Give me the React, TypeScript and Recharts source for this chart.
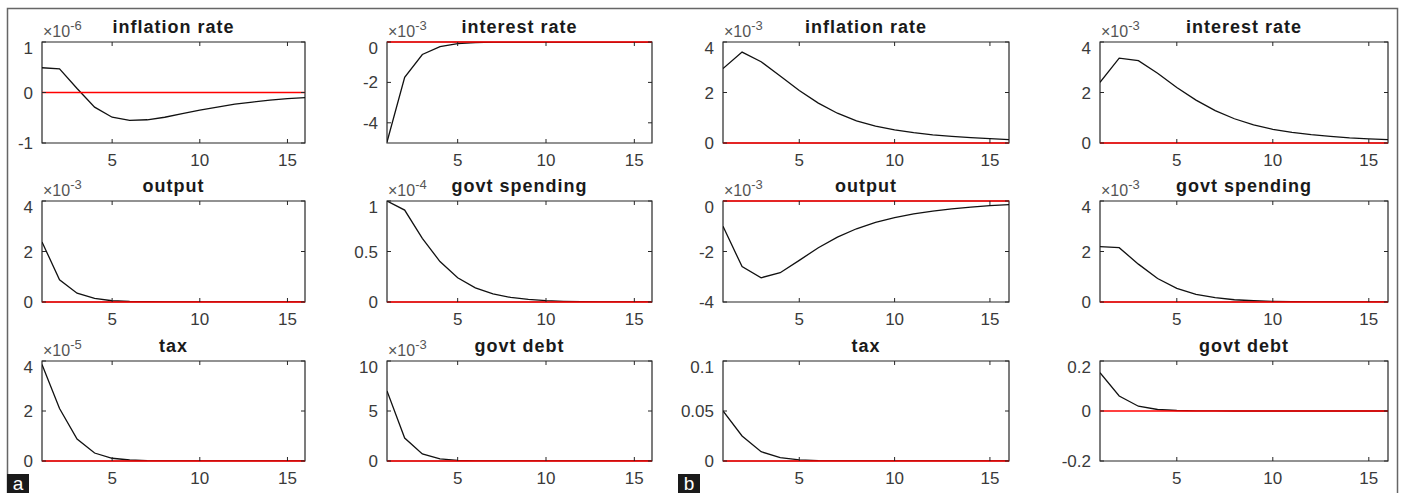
import { LineChart, Line, XAxis, YAxis, ReferenceLine, ReferenceArea } from "recharts";

const FONT = '"Liberation Sans", Arial, Helvetica, sans-serif';
const AXIS = "#262626";

// horizon
const steps = [1, 2, 3, 4, 5, 6, 7, 8, 9, 10, 11, 12, 13, 14, 15, 16];
const xTicks = [5, 10, 15];

// panel a (values shown in the axis' own units, exponent printed separately)
const aInflation = [0.49, 0.47, 0.08, -0.29, -0.49, -0.55, -0.54, -0.49, -0.42, -0.35, -0.29, -0.23, -0.19, -0.15, -0.12, -0.1];
const aInterest = [-4.95, -1.75, -0.62, -0.23, -0.08, -0.03, -0.01, 0, 0, 0, 0, 0, 0, 0, 0, 0];
const aOutput = [2.38, 0.88, 0.35, 0.14, 0.05, 0.02, 0.01, 0, 0, 0, 0, 0, 0, 0, 0, 0];
const aSpending = [1.0, 0.91, 0.63, 0.4, 0.24, 0.14, 0.08, 0.045, 0.025, 0.013, 0.007, 0.004, 0.002, 0.001, 0.0005, 0.0003];
const aTax = [3.86, 2.1, 0.88, 0.32, 0.11, 0.04, 0.013, 0.004, 0, 0, 0, 0, 0, 0, 0, 0];
const aDebt = [7.0, 2.3, 0.7, 0.22, 0.07, 0.02, 0.006, 0, 0, 0, 0, 0, 0, 0, 0, 0];

// panel b
const bInflation = [2.95, 3.6, 3.22, 2.65, 2.08, 1.58, 1.18, 0.88, 0.67, 0.52, 0.41, 0.32, 0.26, 0.21, 0.17, 0.13];
const bInterest = [2.4, 3.36, 3.26, 2.76, 2.2, 1.7, 1.28, 0.96, 0.72, 0.54, 0.42, 0.33, 0.26, 0.2, 0.16, 0.13];
const bOutput = [-1.0, -2.6, -3.04, -2.84, -2.35, -1.85, -1.43, -1.1, -0.85, -0.66, -0.51, -0.4, -0.31, -0.24, -0.18, -0.14];
const bSpending = [2.19, 2.15, 1.5, 0.93, 0.54, 0.3, 0.17, 0.09, 0.05, 0.025, 0.013, 0.007, 0.004, 0.002, 0.001, 0.0005];
const bTax = [0.05, 0.025, 0.0093, 0.0033, 0.0012, 0.0004, 0.0001, 0, 0, 0, 0, 0, 0, 0, 0, 0];
const bDebt = [0.153, 0.06, 0.019, 0.006, 0.002, 0.0006, 0.0002, 0, 0, 0, 0, 0, 0, 0, 0, 0];

type Spec = {
  title: string;
  exp?: string;
  values: number[];
  domain: [number, number];
  ticks: number[];
};

// row-major, 3 rows x 4 columns
const panels: Spec[] = [
  { title: "inflation rate", exp: "-6", values: aInflation, domain: [-1, 1], ticks: [-1, 0, 1] },
  { title: "interest rate", exp: "-3", values: aInterest, domain: [-5, 0], ticks: [-4, -2, 0] },
  { title: "inflation rate", exp: "-3", values: bInflation, domain: [0, 4], ticks: [0, 2, 4] },
  { title: "interest rate", exp: "-3", values: bInterest, domain: [0, 4], ticks: [0, 2, 4] },
  { title: "output", exp: "-3", values: aOutput, domain: [0, 4], ticks: [0, 2, 4] },
  { title: "govt spending", exp: "-4", values: aSpending, domain: [0, 1], ticks: [0, 0.5, 1] },
  { title: "output", exp: "-3", values: bOutput, domain: [-4, 0], ticks: [-4, -2, 0] },
  { title: "govt spending", exp: "-3", values: bSpending, domain: [0, 4], ticks: [0, 2, 4] },
  { title: "tax", exp: "-5", values: aTax, domain: [0, 4], ticks: [0, 2, 4] },
  { title: "govt debt", exp: "-3", values: aDebt, domain: [0, 10], ticks: [0, 5, 10] },
  { title: "tax", values: bTax, domain: [0, 0.1], ticks: [0, 0.05, 0.1] },
  { title: "govt debt", values: bDebt, domain: [-0.2, 0.2], ticks: [-0.2, 0, 0.2] },
];

// plot-box edges in page pixels
const COLS = [
  { l: 42, r: 305 },
  { l: 387, r: 652 },
  { l: 723, r: 1009 },
  { l: 1100, r: 1388 },
];
const ROWS = [
  { t: 42, b: 143 },
  { t: 201, b: 302 },
  { t: 361, b: 461 },
];

const YW = 60;
const XH = 30;
const TOP = 3;
const RIGHT = 3;

function Panel({ spec, col, row }: { spec: Spec; col: number; row: number }) {
  const c = COLS[col];
  const r = ROWS[row];
  const plotW = c.r - c.l;
  const plotH = r.b - r.t;
  const data = steps.map((s, i) => ({ step: s, v: spec.values[i] }));
  const tickStyle = { fontSize: 17, fill: "#3a3a3a", fontFamily: FONT };

  return (
    <div style={{ position: "absolute", left: c.l - YW, top: r.t - TOP - 1 }}>
      <LineChart
        width={YW + plotW + 1 + RIGHT}
        height={TOP + 1 + plotH + XH}
        data={data}
        margin={{ top: TOP, right: RIGHT, left: 0, bottom: 0 }}
      >
        <XAxis
          dataKey="step"
          type="number"
          domain={[1, 16]}
          ticks={xTicks}
          allowDataOverflow
          height={XH}
          axisLine={false}
          stroke={AXIS}
          tickSize={-4}
          tickMargin={15}
          tick={tickStyle}
        />
        <XAxis
          xAxisId="top"
          orientation="top"
          dataKey="step"
          type="number"
          domain={[1, 16]}
          ticks={xTicks}
          allowDataOverflow
          height={1}
          axisLine={false}
          stroke={AXIS}
          tickSize={-4}
          tickFormatter={() => ""}
        />
        <YAxis
          type="number"
          domain={spec.domain}
          ticks={spec.ticks}
          allowDataOverflow
          width={YW}
          axisLine={false}
          stroke={AXIS}
          tickSize={-4}
          tickMargin={13}
          tick={tickStyle}
        />
        <YAxis
          yAxisId="right"
          orientation="right"
          type="number"
          domain={spec.domain}
          ticks={spec.ticks}
          allowDataOverflow
          width={1}
          axisLine={false}
          stroke={AXIS}
          tickSize={-4}
          tickFormatter={() => ""}
        />
        <ReferenceArea
          x1={1}
          x2={16}
          y1={spec.domain[0]}
          y2={spec.domain[1]}
          fill="none"
          stroke={AXIS}
          strokeWidth={1.2}
          fillOpacity={0}
        />
        <Line
          type="linear"
          dataKey="v"
          stroke="#111"
          strokeWidth={1.3}
          dot={false}
          isAnimationActive={false}
        />
        <ReferenceLine y={0} stroke="#ff0000" strokeWidth={1.6} />
      </LineChart>
    </div>
  );
}

function Overlay() {
  return (
    <svg
      width={1403}
      height={493}
      style={{ position: "absolute", left: 0, top: 0, pointerEvents: "none" }}
    >
      <rect x={7.5} y={8.5} width={1390} height={490} fill="none" stroke="#666" strokeWidth={1.5} />
      {panels.map((p, i) => {
        const c = COLS[i % 4];
        const r = ROWS[Math.floor(i / 4)];
        return (
          <g key={i}>
            <text
              x={(c.l + c.r) / 2}
              y={r.t - 9}
              textAnchor="middle"
              fontFamily={FONT}
              fontWeight="bold"
              fontSize={18}
              letterSpacing={1}
              fill="#1a1a1a"
            >
              {p.title}
            </text>
            {p.exp && (
              <text x={c.l + 1} y={r.t - 5} fontFamily={FONT} fontSize={16} fill="#555">
                ×10
                <tspan dy={-7} fontSize={13}>
                  {p.exp}
                </tspan>
              </text>
            )}
          </g>
        );
      })}
      <rect x={7} y={474} width={22} height={19} fill="#1a1a1a" />
      <text x={18} y={490} textAnchor="middle" fontFamily={FONT} fontSize={19} fill="#fff">
        a
      </text>
      <rect x={678} y={474} width={22} height={19} fill="#1a1a1a" />
      <text x={689} y={490} textAnchor="middle" fontFamily={FONT} fontSize={19} fill="#fff">
        b
      </text>
    </svg>
  );
}

export default function App() {
  return (
    <div
      style={{
        position: "absolute",
        left: 0,
        top: 0,
        width: 1403,
        height: 493,
        background: "#fff",
        overflow: "hidden",
        fontFamily: FONT,
      }}
    >
      {panels.map((p, i) => (
        <Panel key={i} spec={p} col={i % 4} row={Math.floor(i / 4)} />
      ))}
      <Overlay />
    </div>
  );
}
